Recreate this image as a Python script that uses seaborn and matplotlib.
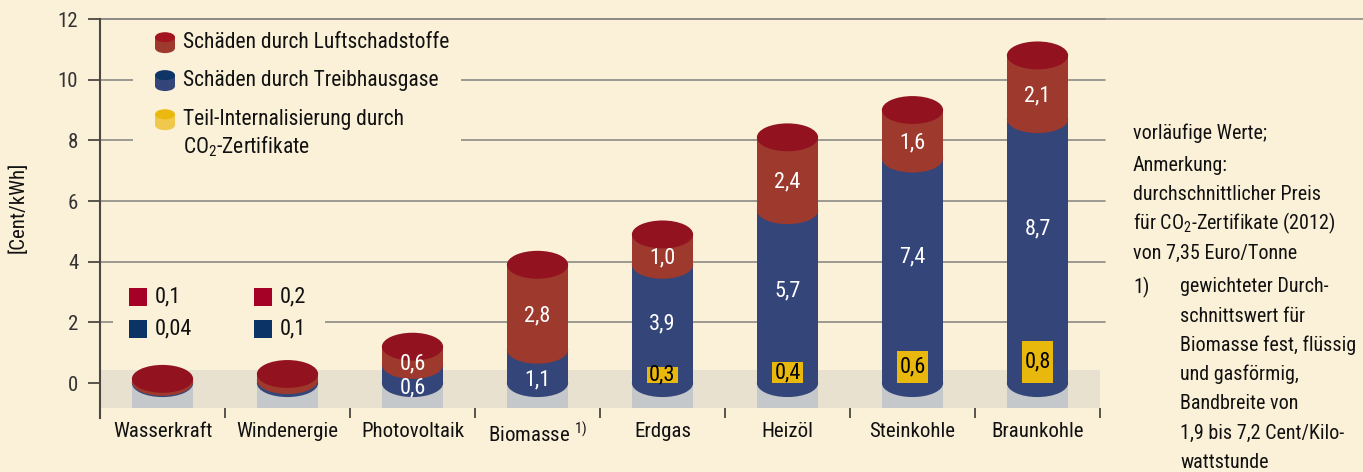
import numpy as np
import pandas as pd
import matplotlib
matplotlib.use("Agg")
import matplotlib.pyplot as plt
from matplotlib import font_manager
from matplotlib.patches import Ellipse, Rectangle
import seaborn as sns

# Daten
energietraeger = ["Wasserkraft", "Windenergie", "Photovoltaik", "Biomasse",
                  "Erdgas", "Heizöl", "Steinkohle", "Braunkohle"]
achsen_labels = ["Wasserkraft", "Windenergie", "Photovoltaik", "Biomasse $^{1)}$",
                 "Erdgas", "Heizöl", "Steinkohle", "Braunkohle"]
treibhausgase = [0.04, 0.1, 0.6, 1.1, 3.9, 5.7, 7.4, 8.7]
luftschadstoffe = [0.1, 0.2, 0.6, 2.8, 1.0, 2.4, 1.6, 2.1]
co2_zertifikate = [0, 0, 0, 0, 0.3, 0.4, 0.6, 0.8]
y_ticks = [0, 2, 4, 6, 8, 10, 12]

legende = ["Schäden durch Luftschadstoffe", "Schäden durch Treibhausgase",
           "Teil-Internalisierung durch"]
anmerkung_a = ["vorläufige Werte;"]
anmerkung_b = ["Anmerkung:", "durchschnittlicher Preis",
               "für CO$_2$-Zertifikate (2012)", "von 7,35 Euro/Tonne"]
fussnote = ["gewichteter Durch-", "schnittswert für", "Biomasse fest, flüssig",
            "und gasförmig,", "Bandbreite von", "1,9 bis 7,2 Cent/Kilo-", "wattstunde"]

# Farben
BG = "#fbf1d9"
BAND = "#e9e1cf"
GRAU = "#c5c8ca"
BLAU = "#334579"
ROT = "#9e3a2d"
DECKEL = "#92131f"
GELB = "#e9b80c"
GITTER = "#8c8a85"
ACHSE = "#4b4741"
TEXT = "#111111"

BAR_W = 0.49
RY = 0.46          # Halbachse der Ellipsen (Datenkoordinaten)
FUSS = 0.83        # Tiefe des grauen Sockels
GELB_SKALA = 1.75  # Darstellungshöhe der gelben Kästchen


def pick_font(kandidaten):
    """
    Erste installierte Schrift aus der Liste zurückgeben.
    """
    for name in kandidaten:
        try:
            font_manager.findfont(font_manager.FontProperties(family=name),
                                  fallback_to_default=False)
            return name
        except ValueError:
            continue
    return "DejaVu Sans"


def de(v, fmt="{:.1f}"):
    return fmt.format(v).replace(".", ",")


def zylinder(ax, x, unten, oben, breite, ry, koerper, deckel, z=8):
    ax.add_patch(Rectangle((x - breite / 2, unten), breite, oben - unten,
                           color=koerper, lw=0, zorder=z))
    ax.add_patch(Ellipse((x, unten), breite, 2 * ry, color=koerper, lw=0, zorder=z))
    ax.add_patch(Ellipse((x, oben), breite, 2 * ry, color=deckel, lw=0, zorder=z + 0.1))


sns.set_theme(style="white")
schrift = pick_font(["Liberation Sans Narrow", "Roboto Condensed", "Roboto"])
plt.rcParams["font.family"] = [schrift, "DejaVu Sans"]
plt.rcParams["mathtext.fontset"] = "custom"
plt.rcParams["mathtext.rm"] = schrift
plt.rcParams["mathtext.it"] = schrift
plt.rcParams["mathtext.bf"] = schrift

df = pd.DataFrame({"Energieträger": energietraeger,
                   "Treibhausgase": treibhausgase,
                   "Luftschadstoffe": luftschadstoffe,
                   "CO2": co2_zertifikate})
df["Gesamt"] = df["Treibhausgase"] + df["Luftschadstoffe"]
df["GelbH"] = df["CO2"] * GELB_SKALA
n = len(df)
x = np.arange(n)

fig = plt.figure(figsize=(13.63, 4.72), dpi=100, facecolor=BG)
ax = fig.add_axes([100 / 1363, 54 / 472, 1000 / 1363, 399 / 472])
ax.set_facecolor(BG)

# Hintergrundband und Sockel
ax.axhspan(-FUSS, 0.43, color=BAND, lw=0, zorder=0.6)
ax.bar(x, FUSS, bottom=-FUSS, width=BAR_W, color=GRAU, lw=0, zorder=1)

# Säulen
sns.barplot(data=df, x="Energieträger", y="Gesamt", color=ROT, saturation=1,
            width=BAR_W, errorbar=None, linewidth=0, zorder=2, ax=ax)
sns.barplot(data=df, x="Energieträger", y="Treibhausgase", color=BLAU, saturation=1,
            width=BAR_W, errorbar=None, linewidth=0, zorder=3, ax=ax)
for i, r in df.iterrows():
    ax.add_patch(Ellipse((i, 0), BAR_W, 2 * RY, color=BLAU, lw=0, zorder=2.5))
    ax.add_patch(Ellipse((i, r["Treibhausgase"]), BAR_W, 2 * RY, color=ROT, lw=0, zorder=4))
    ax.add_patch(Ellipse((i, r["Gesamt"]), BAR_W, 2 * RY, color=DECKEL, lw=0, zorder=5))

sns.barplot(data=df, x="Energieträger", y="GelbH", color=GELB, saturation=1,
            width=0.25, errorbar=None, linewidth=0, zorder=6, ax=ax)

# Werte in den Säulen
for i, r in df.iterrows():
    b, t, c = r["Treibhausgase"], r["Gesamt"], r["GelbH"]
    if t < 0.5:
        continue
    ax.text(i, (b + t) / 2 - 0.28, de(r["Luftschadstoffe"]), color="white",
            ha="center", va="center", fontsize=16, zorder=7)
    ax.text(i, (c + b) / 2 - 0.5 + 0.06 * b, de(b), color="white",
            ha="center", va="center", fontsize=16, zorder=7)
    if r["CO2"] > 0:
        ax.text(i, c / 2, de(r["CO2"]), color="black",
                ha="center", va="center", fontsize=16, zorder=7)

# Gitterlinien
for yv in y_ticks[1:]:
    ax.plot([0, 1.005], [yv, yv], transform=ax.get_yaxis_transform(),
            color=GITTER, lw=1.2, zorder=0.5, clip_on=False)
ax.plot([0, 1.27], [12, 12], transform=ax.get_yaxis_transform(),
        color=GITTER, lw=1.2, zorder=0.5, clip_on=False)

# Legende oben
ax.add_patch(Rectangle((-0.236, 7.2), 2.62, 4.2, color=BG, lw=0, zorder=0.8))
leg_farben = [(ROT, "#a3141f"), (BLAU, "#0d3565"), ("#f0c84c", "#ebb80d")]
leg_y = [11.22, 9.97, 8.68]
for (koerper, deckel), yv, txt in zip(leg_farben, leg_y, legende):
    zylinder(ax, 0.02, yv - 0.18, yv + 0.18, 0.16, 0.165, koerper, deckel)
    ax.text(0.164, yv, txt, fontsize=15.5, color=TEXT, va="center", ha="left",
            zorder=9)
ax.text(0.164, 7.79, "CO$_2$-Zertifikate", fontsize=15.5, color=TEXT,
        va="center", ha="left", zorder=9)

# kleine Legende für Wasserkraft / Windenergie
ax.add_patch(Rectangle((-0.4, 1.3), 1.7, 1.9, color=BG, lw=0, zorder=0.8))
for i in range(2):
    ax.scatter([i - 0.2], [2.84], marker="s", s=150, color="#a50026", lw=0, zorder=9)
    ax.scatter([i - 0.2], [1.78], marker="s", s=150, color="#0b3366", lw=0, zorder=9)
    ax.text(i - 0.06, 2.84, de(luftschadstoffe[i], "{:g}"), fontsize=16,
            color=TEXT, va="center", ha="left", zorder=9)
    ax.text(i - 0.06, 1.78, de(treibhausgase[i], "{:g}"), fontsize=16,
            color=TEXT, va="center", ha="left", zorder=9)

# Achsen
ax.set_xlim(-0.5, n - 0.5)
ax.set_ylim(-1.15, 12)
ax.set_xlabel("")
ax.set_ylabel("")
ax.set_yticks(y_ticks)
ax.set_yticklabels([str(v) for v in y_ticks], fontsize=15, color="#333333")
ax.set_xticks(np.arange(n + 1) - 0.5)
ax.set_xticklabels([])
ax.set_xticks(x, minor=True)
ax.set_xticklabels(achsen_labels, minor=True, fontsize=15, color=TEXT)
ax.tick_params(axis="x", which="major", direction="in", length=7, width=1.3,
               color=ACHSE, bottom=True)
ax.tick_params(axis="x", which="minor", length=0, pad=3)
ax.tick_params(axis="y", direction="out", length=8.6, width=1.3, color=ACHSE,
               pad=7, left=True)
for s in ["top", "right", "bottom"]:
    ax.spines[s].set_visible(False)
ax.spines["left"].set_color(ACHSE)
ax.spines["left"].set_linewidth(1.5)
ax.grid(False)

fig.text(18 / 1363, 1 - 207 / 472, "[Cent/kWh]", rotation=90, fontsize=15,
         color=TEXT, ha="center", va="center")

# Anmerkungen rechts
NOTE_FS = 14.5
for k, txt in enumerate(anmerkung_a + anmerkung_b):
    y_px = 133 if k == 0 else 165 + 29.4 * (k - 1)
    fig.text(1133 / 1363, 1 - y_px / 472, txt, fontsize=NOTE_FS, color=TEXT,
             ha="left", va="center")
fig.text(1133 / 1363, 1 - 287 / 472, "1)", fontsize=NOTE_FS, color=TEXT,
         ha="left", va="center")
for k, txt in enumerate(fussnote):
    fig.text(1180 / 1363, 1 - (287 + 29.2 * k) / 472, txt, fontsize=NOTE_FS,
             color=TEXT, ha="left", va="center")

plt.savefig("out.png", dpi=100, facecolor=BG)
plt.close()
